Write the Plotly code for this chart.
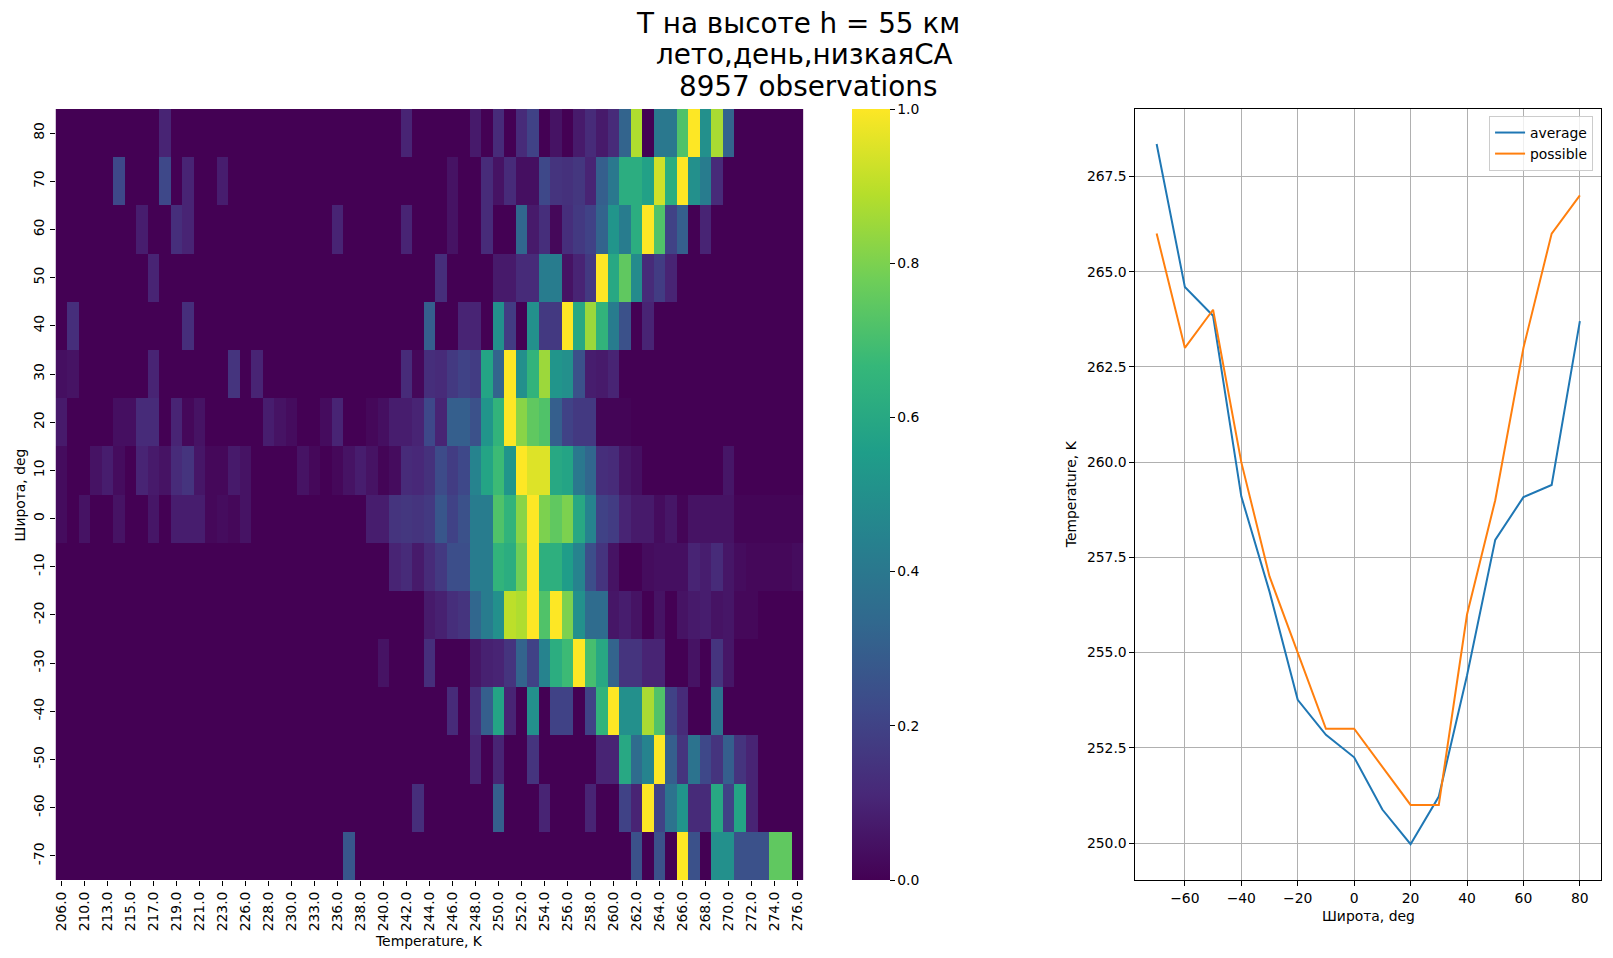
import plotly.graph_objects as go

# ── figure geometry (px) ──────────────────────────────────────────────────────
W, H = 1613, 958
HM_X0, HM_X1 = 52.7, 802.8        # heatmap axes
AX_Y0, AX_Y1 = 109, 880           # shared top / bottom of both axes
CB_X0, CB_W = 852, 38             # colorbar
LN_X0, LN_X1 = 1136, 1603         # line chart axes

FONT = "DejaVu Sans"
TICK_PX = 13.9                    # 10 pt @ 100 dpi
TITLE_PX = 27.8                   # 20 pt

# ── data ──────────────────────────────────────────────────────────────────────
# temperature bins (columns of the heatmap), K
temps = [206, 208, 210, 212, 213, 214, 215, 216, 217, 218, 219, 220,
         221, 222, 223, 225, 226, 227, 228, 229, 230, 231, 233, 235] + \
        list(range(236, 277))

# latitude rows, top to bottom
lats = [80, 70, 60, 50, 40, 30, 20, 10, 0, -10, -20, -30, -40, -50, -60, -70]

# normalised counts per latitude row (max of each row = 1)
z_80 = [0, 0, 0, 0, 0, 0, 0, 0, 0, 0.1,
        0, 0, 0, 0, 0, 0, 0, 0, 0, 0,
        0, 0, 0, 0, 0, 0, 0, 0, 0, 0,
        0.1, 0, 0, 0, 0, 0, 0.07, 0, 0.12, 0,
        0.12, 0.2, 0, 0.05, 0, 0.07, 0.12, 0.07, 0.12, 0.32,
        0.88, 0, 0.4, 0.4, 0.72, 1.0, 0.5, 0.87, 0.32, 0,
        0, 0, 0, 0, 0]
z_70 = [0, 0, 0, 0, 0, 0.22, 0, 0, 0, 0.22,
        0, 0.1, 0, 0, 0.08, 0, 0, 0, 0, 0,
        0, 0, 0, 0, 0, 0, 0, 0, 0, 0,
        0, 0, 0, 0, 0.05, 0, 0, 0.12, 0.05, 0.12,
        0.04, 0.04, 0.22, 0.15, 0.14, 0.16, 0.1, 0.3, 0.4, 0.62,
        0.62, 0.57, 0.93, 0.62, 1.0, 0.5, 0.42, 0.12, 0, 0,
        0, 0, 0, 0, 0]
z_60 = [0, 0, 0, 0, 0, 0, 0, 0.08, 0, 0,
        0.13, 0.1, 0, 0, 0, 0, 0, 0, 0, 0,
        0, 0, 0, 0, 0.1, 0, 0, 0, 0, 0,
        0.1, 0, 0, 0, 0.05, 0, 0, 0.12, 0, 0,
        0.33, 0.07, 0.13, 0.02, 0.13, 0.17, 0.2, 0.32, 0.52, 0.42,
        0.62, 1.0, 0.72, 0.2, 0.3, 0, 0.1, 0, 0, 0,
        0, 0, 0, 0, 0]
z_50 = [0, 0, 0, 0, 0, 0, 0, 0, 0.1, 0,
        0, 0, 0, 0, 0, 0, 0, 0, 0, 0,
        0, 0, 0, 0, 0, 0, 0, 0, 0, 0,
        0, 0, 0, 0.13, 0, 0, 0, 0, 0.07, 0.07,
        0.12, 0.12, 0.42, 0.42, 0.05, 0.1, 0.17, 1.0, 0.6, 0.75,
        0.48, 0.12, 0.18, 0.1, 0, 0, 0, 0, 0, 0,
        0, 0, 0, 0, 0]
z_40 = [0, 0.13, 0, 0, 0, 0, 0, 0, 0, 0,
        0, 0.13, 0, 0, 0, 0, 0, 0, 0, 0,
        0, 0, 0, 0, 0, 0, 0, 0, 0, 0,
        0, 0, 0.3, 0, 0, 0.1, 0.1, 0, 0.5, 0.18,
        0, 0.5, 0.17, 0.17, 1.0, 0.6, 0.85, 0.65, 0.42, 0.25,
        0, 0.1, 0, 0, 0, 0, 0, 0, 0, 0,
        0, 0, 0, 0, 0]
z_30 = [0.04, 0.05, 0, 0, 0, 0, 0, 0, 0.1, 0,
        0, 0, 0, 0, 0, 0.15, 0, 0.1, 0, 0,
        0, 0, 0, 0, 0, 0, 0, 0, 0, 0,
        0.12, 0.02, 0.13, 0.12, 0.17, 0.2, 0.18, 0.58, 0.32, 1.0,
        0.5, 0.65, 0.85, 0.52, 0.5, 0.25, 0.08, 0.07, 0.1, 0,
        0, 0, 0, 0, 0, 0, 0, 0, 0, 0,
        0, 0, 0, 0, 0]
z_20 = [0.07, 0, 0, 0, 0, 0.04, 0.04, 0.12, 0.12, 0,
        0.1, 0.02, 0.05, 0, 0, 0, 0, 0, 0.08, 0.05,
        0.03, 0, 0, 0.03, 0.1, 0, 0, 0.02, 0.04, 0.08,
        0.08, 0.1, 0.22, 0.1, 0.3, 0.3, 0.25, 0.52, 0.65, 1.0,
        0.82, 0.75, 0.72, 0.3, 0.2, 0.17, 0.17, 0.01, 0.01, 0.01,
        0, 0, 0, 0, 0, 0, 0, 0, 0, 0,
        0, 0, 0, 0, 0]
z_10 = [0.03, 0, 0, 0.05, 0.08, 0.03, 0, 0.1, 0.07, 0.05,
        0.12, 0.15, 0.06, 0.02, 0.02, 0.07, 0.05, 0, 0, 0,
        0, 0.05, 0.02, 0, 0.02, 0.05, 0.08, 0.05, 0.01, 0.03,
        0.12, 0.11, 0.14, 0.23, 0.18, 0.22, 0.45, 0.58, 0.68, 0.52,
        1.0, 0.95, 0.95, 0.6, 0.58, 0.4, 0.33, 0.13, 0.12, 0.06,
        0.04, 0, 0, 0, 0, 0, 0, 0, 0.06, 0,
        0, 0, 0, 0, 0]
z_0 = [0.03, 0, 0.05, 0, 0, 0.05, 0, 0, 0.06, 0,
       0.08, 0.08, 0.08, 0.02, 0.03, 0.02, 0.05, 0, 0, 0,
       0, 0, 0, 0, 0, 0, 0, 0.08, 0.08, 0.15,
       0.16, 0.15, 0.17, 0.27, 0.2, 0.25, 0.42, 0.42, 0.72, 0.65,
       0.82, 1.0, 0.8, 0.75, 0.8, 0.6, 0.45, 0.2, 0.18, 0.1,
       0.07, 0.07, 0.03, 0.06, 0.01, 0.05, 0.05, 0.05, 0.05, 0.01,
       0.01, 0.01, 0.01, 0.01, 0.01]
z_m10 = [0, 0, 0, 0, 0, 0, 0, 0, 0, 0,
         0, 0, 0, 0, 0, 0, 0, 0, 0, 0,
         0, 0, 0, 0, 0, 0, 0, 0, 0, 0.1,
         0.12, 0.07, 0.12, 0.17, 0.24, 0.24, 0.42, 0.42, 0.65, 0.62,
         0.78, 1.0, 0.63, 0.63, 0.55, 0.45, 0.24, 0.15, 0.05, 0,
         0, 0.03, 0.04, 0.04, 0.04, 0.1, 0.08, 0.12, 0.06, 0.03,
         0.02, 0.02, 0.02, 0.02, 0.03]
z_m20 = [0, 0, 0, 0, 0, 0, 0, 0, 0, 0,
         0, 0, 0, 0, 0, 0, 0, 0, 0, 0,
         0, 0, 0, 0, 0, 0, 0, 0, 0, 0,
         0, 0, 0.07, 0.09, 0.13, 0.15, 0.33, 0.42, 0.5, 0.9,
         0.88, 1.0, 0.72, 1.0, 0.8, 0.5, 0.35, 0.35, 0.06, 0.08,
         0.05, 0, 0.05, 0, 0.05, 0.07, 0.08, 0.05, 0.06, 0.02,
         0.02, 0, 0, 0, 0]
z_m30 = [0, 0, 0, 0, 0, 0, 0, 0, 0, 0,
         0, 0, 0, 0, 0, 0, 0, 0, 0, 0,
         0, 0, 0, 0, 0, 0, 0, 0, 0.05, 0,
         0, 0, 0.13, 0, 0, 0, 0.06, 0.09, 0.1, 0.15,
         0.32, 0.2, 0.45, 0.62, 0.68, 1.0, 0.7, 0.6, 0.32, 0.15,
         0.15, 0.1, 0.1, 0, 0, 0.05, 0, 0.15, 0.06, 0,
         0, 0, 0, 0, 0]
z_m40 = [0, 0, 0, 0, 0, 0, 0, 0, 0, 0,
         0, 0, 0, 0, 0, 0, 0, 0, 0, 0,
         0, 0, 0, 0, 0, 0, 0, 0, 0, 0,
         0, 0, 0, 0, 0.12, 0, 0.13, 0.3, 0.58, 0.1,
         0, 0.5, 0, 0.2, 0.2, 0, 0.2, 0.65, 1.0, 0.5,
         0.5, 0.87, 0.72, 0.2, 0.12, 0, 0, 0.38, 0, 0,
         0, 0, 0, 0, 0]
z_m50 = [0, 0, 0, 0, 0, 0, 0, 0, 0, 0,
         0, 0, 0, 0, 0, 0, 0, 0, 0, 0,
         0, 0, 0, 0, 0, 0, 0, 0, 0, 0,
         0, 0, 0, 0, 0, 0, 0.1, 0, 0.1, 0,
         0, 0.15, 0, 0, 0, 0, 0, 0.1, 0.1, 0.6,
         0.35, 0.45, 1.0, 0.3, 0.15, 0.38, 0.22, 0.15, 0.3, 0.15,
         0.1, 0, 0, 0, 0]
z_m60 = [0, 0, 0, 0, 0, 0, 0, 0, 0, 0,
         0, 0, 0, 0, 0, 0, 0, 0, 0, 0,
         0, 0, 0, 0, 0, 0, 0, 0, 0, 0,
         0, 0.13, 0, 0, 0, 0, 0, 0, 0.3, 0,
         0, 0, 0.1, 0, 0, 0, 0.1, 0, 0, 0.2,
         0.1, 1.0, 0.2, 0.38, 0.52, 0.12, 0.12, 0.6, 0.2, 0.58,
         0.1, 0, 0, 0, 0]
z_m70 = [0, 0, 0, 0, 0, 0, 0, 0, 0, 0,
         0, 0, 0, 0, 0, 0, 0, 0, 0, 0,
         0, 0, 0, 0, 0, 0.27, 0, 0, 0, 0,
         0, 0, 0, 0, 0, 0, 0, 0, 0, 0,
         0, 0, 0, 0, 0, 0, 0, 0, 0, 0,
         0.25, 0, 0.25, 0, 1.0, 0.25, 0, 0.5, 0.5, 0.25,
         0.25, 0.25, 0.75, 0.75, 0]

z_rows = [z_80, z_70, z_60, z_50, z_40, z_30, z_20, z_10,
          z_0, z_m10, z_m20, z_m30, z_m40, z_m50, z_m60, z_m70]

# line chart: latitude vs temperature
line_lats = [-70, -60, -50, -40, -30, -20, -10, 0, 10, 20, 30, 40, 50, 60, 70, 80]
t_average = [268.35, 264.6, 263.84, 259.1, 256.6, 253.76, 252.84, 252.25,
             250.88, 249.97, 251.22, 254.4, 257.96, 259.08, 259.4, 263.7]
t_possible = [266, 263, 264, 260, 257, 255, 253, 253,
              252, 251, 251, 256, 259, 263, 266, 267]

title_lines = ["T на высоте h = 55 км", "лето,день,низкаяСА", "8957 observations"]

COLOR_AVG = "#1f77b4"
COLOR_POS = "#ff7f0e"
GRID = "#b0b0b0"


def px_x(v):
    return v / W


def px_y(v):
    return 1 - v / H


temp_labels = [f"{t:.1f}" for t in temps]

fig = go.Figure()

# ── heatmap ───────────────────────────────────────────────────────────────────
fig.add_trace(go.Heatmap(
    x=temp_labels,
    y=lats,
    z=z_rows,
    colorscale="Viridis",
    zmin=0, zmax=1,
    xaxis="x", yaxis="y",
    colorbar=dict(
        x=px_x(CB_X0), xanchor="left", xpad=0,
        y=px_y(AX_Y1), yanchor="bottom", ypad=0,
        len=(AX_Y1 - AX_Y0) / H, lenmode="fraction",
        thickness=CB_W, thicknessmode="pixels",
        outlinewidth=0,
        ticks="outside", ticklen=5, tickcolor="black",
        tickvals=[0, 0.2, 0.4, 0.6, 0.8, 1.0],
        tickformat=".1f",
        tickfont=dict(family=FONT, size=TICK_PX, color="black"),
    ),
))

# ── line chart ────────────────────────────────────────────────────────────────
fig.add_trace(go.Scatter(
    x=line_lats, y=t_average, name="average", mode="lines",
    line=dict(color=COLOR_AVG, width=2), xaxis="x2", yaxis="y2",
))
fig.add_trace(go.Scatter(
    x=line_lats, y=t_possible, name="possible", mode="lines",
    line=dict(color=COLOR_POS, width=2), xaxis="x2", yaxis="y2",
))

tick_font = dict(family=FONT, size=TICK_PX, color="black")

fig.update_layout(
    width=W, height=H,
    margin=dict(l=0, r=0, t=0, b=0),
    paper_bgcolor="white", plot_bgcolor="white",
    font=dict(family=FONT, size=TICK_PX, color="black"),
    xaxis=dict(
        domain=[px_x(HM_X0), px_x(HM_X1)],
        type="category",
        tickmode="array", tickvals=temp_labels[::2], ticktext=temp_labels[::2],
        tickangle=-90, ticks="outside", ticklen=5, tickcolor="black",
        tickfont=tick_font, showgrid=False, showline=False, zeroline=False,
    ),
    yaxis=dict(
        domain=[px_y(AX_Y1), px_y(AX_Y0)],
        range=[-75, 85],
        tickmode="array", tickvals=lats, ticktext=[str(l) for l in lats],
        tickangle=-90, ticks="outside", ticklen=5, tickcolor="black",
        tickfont=tick_font, showgrid=False, showline=False, zeroline=False,
    ),
    xaxis2=dict(
        domain=[px_x(LN_X0), px_x(LN_X1)], anchor="y2",
        range=[-77.5, 87.5],
        tickmode="array", tickvals=[-60, -40, -20, 0, 20, 40, 60, 80],
        ticks="outside", ticklen=5, tickcolor="black", tickfont=tick_font,
        showgrid=True, gridcolor=GRID, gridwidth=1,
        showline=True, linecolor="black", linewidth=1, mirror=True,
        zeroline=False,
    ),
    yaxis2=dict(
        domain=[px_y(AX_Y1), px_y(AX_Y0)], anchor="x2",
        range=[249.03, 269.27],
        tickmode="array", tickvals=[250, 252.5, 255, 257.5, 260, 262.5, 265, 267.5],
        tickformat=".1f",
        ticks="outside", ticklen=5, tickcolor="black", tickfont=tick_font,
        showgrid=True, gridcolor=GRID, gridwidth=1,
        showline=True, linecolor="black", linewidth=1, mirror=True,
        zeroline=False,
    ),
    legend=dict(
        x=px_x(LN_X1 - 8), xanchor="right",
        y=px_y(116), yanchor="top",
        bgcolor="rgba(255,255,255,0.8)",
        bordercolor="#cccccc", borderwidth=1,
        font=dict(family=FONT, size=TICK_PX, color="black"),
    ),
    showlegend=True,
)

# ── titles and axis labels ────────────────────────────────────────────────────
annotations = []
for text, cx, cy in zip(title_lines, [797, 803.5, 807.5], [23, 55, 87]):
    annotations.append(dict(
        text=text, x=px_x(cx), y=px_y(cy), xref="paper", yref="paper",
        xanchor="center", yanchor="middle", showarrow=False,
        font=dict(family=FONT, size=TITLE_PX, color="black"),
    ))

labels = [
    ("Temperature, K", (HM_X0 + HM_X1) / 2, 941, 0),
    ("Широта, deg", 17, (AX_Y0 + AX_Y1) / 2, -90),
    ("Широта, deg", (LN_X0 + LN_X1) / 2, 916, 0),
    ("Temperature, K", 1071, (AX_Y0 + AX_Y1) / 2, -90),
]
for text, cx, cy, ang in labels:
    annotations.append(dict(
        text=text, x=px_x(cx), y=px_y(cy), xref="paper", yref="paper",
        xanchor="center", yanchor="middle", showarrow=False, textangle=ang,
        font=dict(family=FONT, size=TICK_PX, color="black"),
    ))

fig.update_layout(annotations=annotations)

fig.write_html("out.html", config={"displayModeBar": False},
               post_script="document.body.style.margin='0';")
